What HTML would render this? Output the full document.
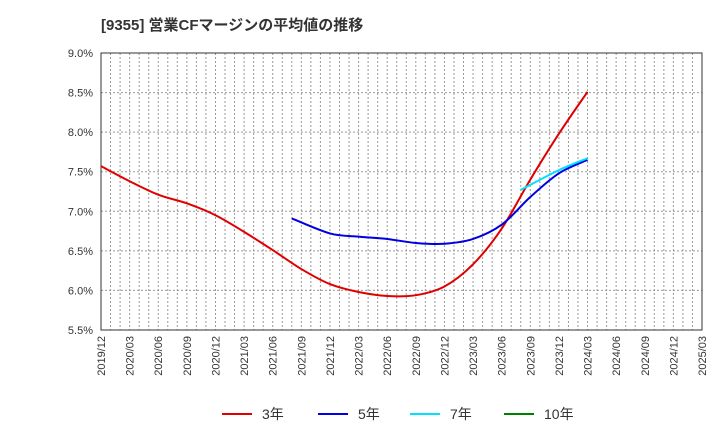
<!DOCTYPE html>
<html><head><meta charset="utf-8">
<style>
body{margin:0;background:#fff;font-family:"Liberation Sans","Noto Sans CJK JP",sans-serif;}
svg text{font-family:"Liberation Sans","Noto Sans CJK JP",sans-serif;}
</style></head>
<body>
<svg id="chart" width="720" height="440">
<text x="101" y="30" font-size="15" font-weight="bold" fill="#333">[9355]  営業CFマージンの平均値の推移</text>
<g id="grid"></g><g id="axes"></g><g id="series"></g>
<g>
<line x1="222" y1="414" x2="252" y2="414" stroke="#e00000" stroke-width="2"/><text x="262" y="419" font-size="14" fill="#333">3年</text>
<line x1="318" y1="414" x2="348" y2="414" stroke="#0000e0" stroke-width="2"/><text x="358" y="419" font-size="14" fill="#333">5年</text>
<line x1="410" y1="414" x2="440" y2="414" stroke="#00e0ff" stroke-width="2"/><text x="450" y="419" font-size="14" fill="#333">7年</text>
<line x1="504" y1="414" x2="534" y2="414" stroke="#008000" stroke-width="2"/><text x="544" y="419" font-size="14" fill="#333">10年</text>
</g>
</svg>
<script>
const xTicks=["2019/12","2020/03","2020/06","2020/09","2020/12","2021/03","2021/06","2021/09","2021/12","2022/03","2022/06","2022/09","2022/12","2023/03","2023/06","2023/09","2023/12","2024/03","2024/06","2024/09","2024/12","2025/03"];
const yTicks=[5.5,6.0,6.5,7.0,7.5,8.0,8.5,9.0];
const dates3=["2019/12","2020/03","2020/06","2020/09","2020/12","2021/03","2021/06","2021/09","2021/12","2022/03","2022/06","2022/09","2022/12","2023/03","2023/06","2023/09","2023/12","2024/03"];
const vals3=[7.57,7.38,7.21,7.10,6.95,6.74,6.51,6.27,6.08,5.98,5.93,5.94,6.05,6.33,6.78,7.40,7.98,8.51];
const dates5=["2021/08","2021/12","2022/03","2022/06","2022/09","2022/12","2023/03","2023/06","2023/09","2023/12","2024/03"];
const vals5=[6.91,6.72,6.68,6.65,6.60,6.59,6.65,6.83,7.18,7.48,7.65];
const dates7=["2023/08","2023/12","2024/03"];
const vals7=[7.27,7.52,7.67];
const L=101,R=702,T=53,B=330;
const NS="http://www.w3.org/2000/svg";
function mi(d){const [y,m]=d.split("/").map(Number);return (y-2019)*12+m-12;}
const total=mi("2025/03");
const xs=d=>L+mi(d)/total*(R-L);
const ys=v=>B-(v-5.5)/3.5*(B-T);
function mk(tag,attrs,parent){const e=document.createElementNS(NS,tag);for(const k in attrs)e.setAttribute(k,attrs[k]);parent.appendChild(e);return e;}
const grid=document.getElementById("grid"),axes=document.getElementById("axes"),ser=document.getElementById("series");
for(let i=1;i<total;i++){const x=L+i/total*(R-L);
const g=mk("line",{x1:x,x2:x,y1:T,y2:B,stroke:"#999","stroke-dasharray":"2,2","stroke-width":1},grid);

}
yTicks.forEach(v=>{const y=ys(v);
if(v>5.5&&v<9.0){const g=mk("line",{x1:L,x2:R,y1:y,y2:y,stroke:"#999","stroke-dasharray":"2,2"},grid);

}
const t=mk("text",{x:L-8,y:y+4,"text-anchor":"end","font-size":11,fill:"#333"},axes);t.textContent=v.toFixed(1)+"%";

});
const fr=mk("rect",{x:L,y:T,width:R-L,height:B-T,fill:"none",stroke:"#333","stroke-width":1},axes);


xTicks.forEach(d=>{const x=xs(d);
const t=mk("text",{transform:`translate(${x+4},${B+6}) rotate(-90)`,"text-anchor":"end","font-size":11,fill:"#333"},axes);t.textContent=d;

});
function path(ds,vs,col,name){const p=ds.map((d,i)=>[xs(d),ys(vs[i])]);
let s=`M${p[0][0]},${p[0][1]}`;
for(let i=0;i<p.length-1;i++){const p0=p[i-1]||p[i],p1=p[i],p2=p[i+1],p3=p[i+2]||p2;
s+=` C${p1[0]+(p2[0]-p0[0])/6},${p1[1]+(p2[1]-p0[1])/6} ${p2[0]-(p3[0]-p1[0])/6},${p2[1]-(p3[1]-p1[1])/6} ${p2[0]},${p2[1]}`;}
const e=mk("path",{d:s,fill:"none",stroke:col,"stroke-width":2},ser);

}
path(dates3,vals3,"#e00000","line-3yr");
path(dates5,vals5,"#0000e0","line-5yr");
path(dates7,vals7,"#00e0ff","line-7yr");
</script>
</body></html>
